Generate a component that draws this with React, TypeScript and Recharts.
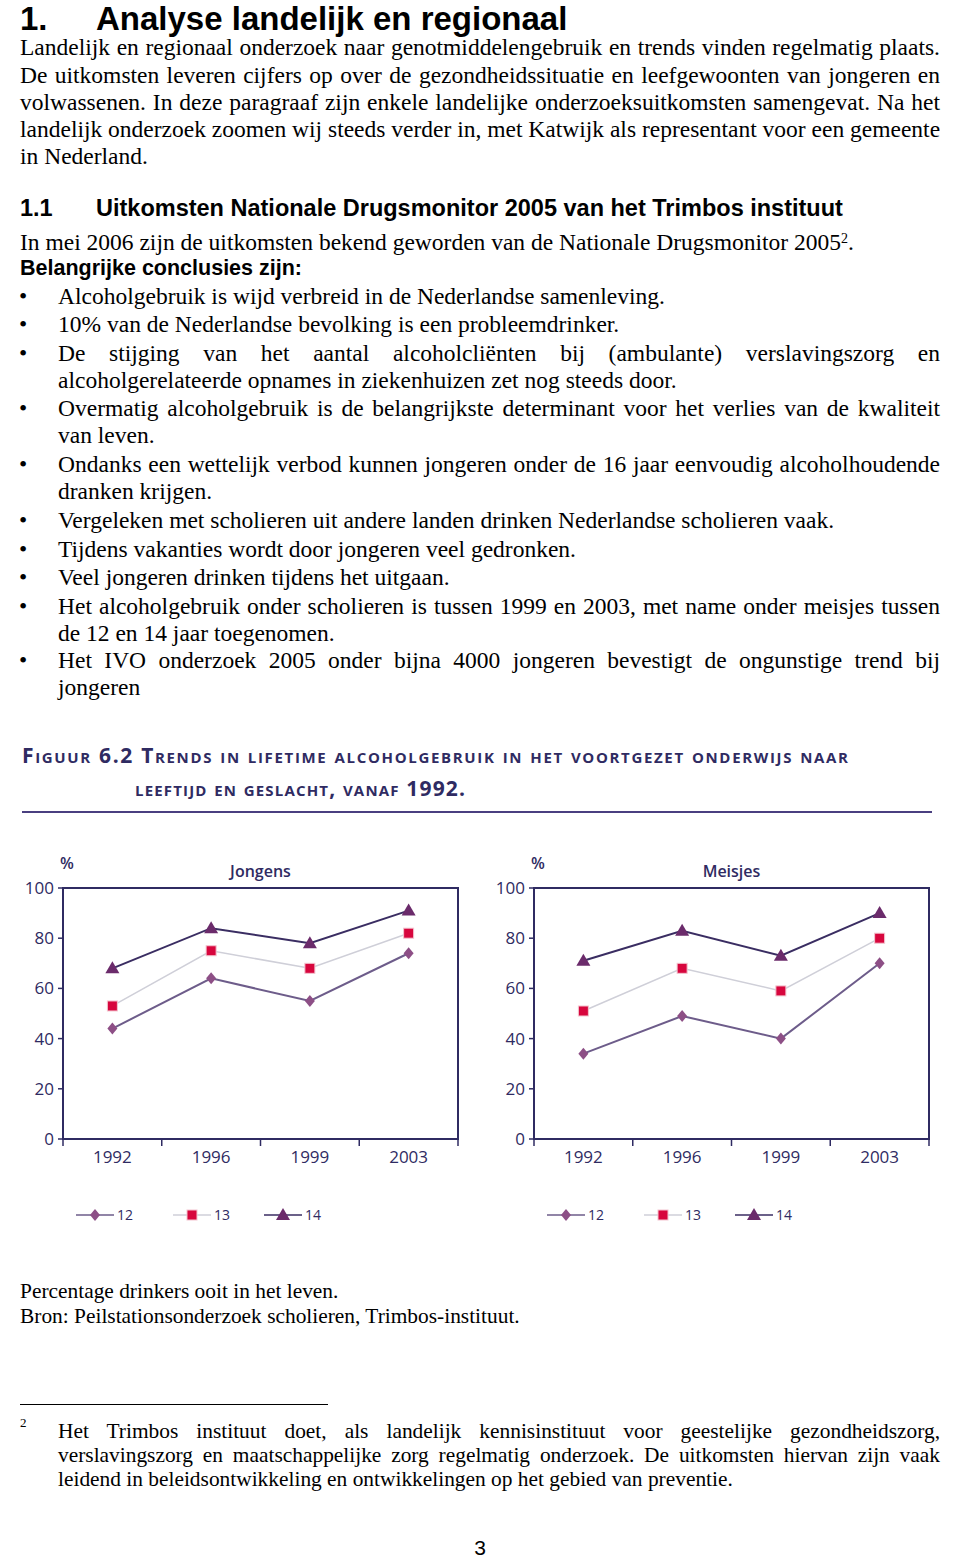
import React from 'react';
import { LineChart, Line, XAxis, YAxis, ReferenceArea } from 'recharts';

// survey years on the x axis
const YEARS = ['1992', '1996', '1999', '2003'];
const Y_TICKS = [0, 20, 40, 60, 80, 100];

// % ever drank, boys (Jongens) by age
const BOYS_12 = [44, 64, 55, 74];
const BOYS_13 = [53, 75, 68, 82];
const BOYS_14 = [68, 84, 78, 91];

// % ever drank, girls (Meisjes) by age
const GIRLS_12 = [34, 49, 40, 70];
const GIRLS_13 = [51, 68, 59, 80];
const GIRLS_14 = [71, 83, 73, 90];

const NAVY = '#2f2b62';
const COLORS = {
    line12: '#6d5c8a',
    mark12: '#8d4f86',
    line13: '#cfcfd8',
    mark13: '#d7063d',
    line14: '#3a2d62',
    mark14: '#6b2b6b',
};

const SERIF = '"Liberation Serif", "Times New Roman", serif';
const ARIAL = '"Liberation Sans", Arial, sans-serif';
const CHART_FONT = '"Open Sans", sans-serif';

const buildData = (a12: number[], a13: number[], a14: number[]) =>
    YEARS.map((year, i) => ({ year, a12: a12[i], a13: a13[i], a14: a14[i] }));

const boysData = buildData(BOYS_12, BOYS_13, BOYS_14);
const girlsData = buildData(GIRLS_12, GIRLS_13, GIRLS_14);

const Diamond = ({ cx, cy, fill }: any) => (
    <path d={`M${cx},${cy - 6}L${cx + 5},${cy}L${cx},${cy + 6}L${cx - 5},${cy}Z`} fill={fill} />
);
const Square = ({ cx, cy, fill }: any) => (
    <rect x={cx - 5} y={cy - 5} width={10} height={10} fill={fill} stroke="#f3c4cf" strokeWidth={1} />
);
const Triangle = ({ cx, cy, fill }: any) => (
    <path d={`M${cx},${cy - 7}L${cx + 7},${cy + 5}L${cx - 7},${cy + 5}Z`} fill={fill} />
);

const dotFor = (Shape: any, fill: string) => (props: any) => {
    if (props.cx == null || props.cy == null) return <g key={props.index} />;
    return <Shape key={props.index} cx={props.cx} cy={props.cy} fill={fill} />;
};

// year label plus the small tick marks that sit on the band edges
const YearTick = ({ x, y, payload, index, width, visibleTicksCount }: any) => {
    const count = visibleTicksCount || YEARS.length;
    const bw = (width || 394) / count;
    const axisY = y - 12;
    return (
        <g>
            <line x1={x - bw / 2} y1={axisY} x2={x - bw / 2} y2={axisY + 7} stroke={NAVY} strokeWidth={1.5} />
            {index === count - 1 && (
                <line x1={x + bw / 2} y1={axisY} x2={x + bw / 2} y2={axisY + 7} stroke={NAVY} strokeWidth={1.5} />
            )}
            <text x={x} y={y} dy="0.71em" textAnchor="middle" fill={NAVY} fontSize={17} fontFamily={CHART_FONT}>
                {payload.value}
            </text>
        </g>
    );
};

const LegendItem = ({ label, line, mark, Shape, gap }: any) => (
    <div style={{ display: 'flex', alignItems: 'center', marginRight: gap }}>
        <svg width={38} height={16}>
            <line x1={0} y1={8} x2={38} y2={8} stroke={line} strokeWidth={1.5} />
            <Shape cx={19} cy={8} fill={mark} />
        </svg>
        <span style={{ marginLeft: 3, fontSize: 14, color: NAVY, fontFamily: CHART_FONT }}>{label}</span>
    </div>
);

interface PanelProps {
    title: string;
    data: any[];
    left: number;
    marginLeft: number;
    marginRight: number;
    legendLeft: number;
}

const Panel = ({ title, data, left, marginLeft, marginRight, legendLeft }: PanelProps) => {
    const plotLeft = left + marginLeft + 40;
    const plotRight = left + 470 - marginRight;
    return (
        <>
            <div style={{ position: 'absolute', left: plotLeft - 3, top: 852, fontFamily: CHART_FONT, fontSize: 16, fontWeight: 600, color: NAVY }}>%</div>
            <div
                style={{
                    position: 'absolute',
                    left: plotLeft,
                    width: plotRight - plotLeft,
                    top: 860,
                    textAlign: 'center',
                    fontFamily: CHART_FONT,
                    fontSize: 16,
                    fontWeight: 600,
                    color: NAVY,
                }}
            >
                {title}
            </div>
            <div style={{ position: 'absolute', left, top: 850 }}>
                <LineChart
                    width={470}
                    height={330}
                    data={data}
                    margin={{ top: 38, right: marginRight, left: marginLeft, bottom: 11 }}
                >
                    <XAxis
                        dataKey="year"
                        scale="band"
                        height={30}
                        tickLine={false}
                        axisLine={{ stroke: NAVY, strokeWidth: 2 }}
                        tickSize={0}
                        tickMargin={12}
                        interval={0}
                        tick={<YearTick />}
                    />
                    <YAxis
                        domain={[0, 100]}
                        ticks={Y_TICKS}
                        interval={0}
                        width={40}
                        tickSize={5}
                        tickMargin={4}
                        axisLine={{ stroke: NAVY, strokeWidth: 2 }}
                        tickLine={{ stroke: NAVY, strokeWidth: 1.5 }}
                        tick={{ fill: NAVY, fontSize: 17, fontFamily: CHART_FONT }}
                    />
                    <ReferenceArea y1={0} y2={100} fill="none" stroke={NAVY} strokeWidth={2} ifOverflow="visible" />
                    <Line
                        type="linear"
                        dataKey="a13"
                        stroke={COLORS.line13}
                        strokeWidth={1.5}
                        dot={dotFor(Square, COLORS.mark13)}
                        activeDot={false}
                        isAnimationActive={false}
                    />
                    <Line
                        type="linear"
                        dataKey="a12"
                        stroke={COLORS.line12}
                        strokeWidth={2}
                        dot={dotFor(Diamond, COLORS.mark12)}
                        activeDot={false}
                        isAnimationActive={false}
                    />
                    <Line
                        type="linear"
                        dataKey="a14"
                        stroke={COLORS.line14}
                        strokeWidth={2}
                        dot={dotFor(Triangle, COLORS.mark14)}
                        activeDot={false}
                        isAnimationActive={false}
                    />
                </LineChart>
            </div>
            <div style={{ position: 'absolute', left: legendLeft, top: 1205, display: 'flex' }}>
                <LegendItem label="12" line={COLORS.line12} mark={COLORS.mark12} Shape={Diamond} gap={40} />
                <LegendItem label="13" line={COLORS.line13} mark={COLORS.mark13} Shape={Square} gap={34} />
                <LegendItem label="14" line={COLORS.line14} mark={COLORS.mark14} Shape={Triangle} gap={0} />
            </div>
        </>
    );
};

// one line of page text at a fixed spot
const TextLine = ({ top, left = 20, width = 920, justify = false, align = 'left', size = 23.5, lh = 27, font = SERIF, bold = false, children }: any) => (
    <div
        style={{
            position: 'absolute',
            top,
            left,
            width,
            fontFamily: font,
            fontSize: size,
            lineHeight: `${lh}px`,
            fontWeight: bold ? 700 : 400,
            color: '#000',
            textAlign: justify ? 'justify' : align,
            textAlignLast: justify ? 'justify' : align,
            whiteSpace: 'nowrap',
        } as any}
    >
        {children}
    </div>
);

const intro = [
    'Landelijk en regionaal onderzoek naar genotmiddelengebruik en trends vinden regelmatig plaats.',
    'De uitkomsten leveren cijfers op over de gezondheidssituatie en leefgewoonten van jongeren en',
    'volwassenen. In deze paragraaf zijn enkele landelijke onderzoeksuitkomsten samengevat. Na het',
    'landelijk onderzoek zoomen wij steeds verder in, met Katwijk als representant voor een gemeente',
    'in Nederland.',
];
const introTops = [34, 62, 89, 116, 143];

// [text, justified, bullet?]
const bullets: [string, boolean, boolean][] = [
    ['Alcoholgebruik is wijd verbreid in de Nederlandse samenleving.', false, true],
    ['10% van de Nederlandse bevolking is een probleemdrinker.', false, true],
    ['De stijging van het aantal alcoholcliënten bij (ambulante) verslavingszorg en', true, true],
    ['alcoholgerelateerde opnames in ziekenhuizen zet nog steeds door.', false, false],
    ['Overmatig alcoholgebruik is de belangrijkste determinant voor het verlies van de kwaliteit', true, true],
    ['van leven.', false, false],
    ['Ondanks een wettelijk verbod kunnen jongeren onder de 16 jaar eenvoudig alcoholhoudende', true, true],
    ['dranken krijgen.', false, false],
    ['Vergeleken met scholieren uit andere landen drinken Nederlandse scholieren vaak.', false, true],
    ['Tijdens vakanties wordt door jongeren veel gedronken.', false, true],
    ['Veel jongeren drinken tijdens het uitgaan.', false, true],
    ['Het alcoholgebruik onder scholieren is tussen 1999 en 2003, met name onder meisjes tussen', true, true],
    ['de 12 en 14 jaar toegenomen.', false, false],
    ['Het IVO onderzoek 2005 onder bijna 4000 jongeren bevestigt de ongunstige trend bij', true, true],
    ['jongeren', false, false],
];
const bulletTops = [283, 311, 340, 367, 395, 422, 451, 478, 507, 536, 564, 593, 620, 647, 674];

const footnote = [
    'Het Trimbos instituut doet, als landelijk kennisinstituut voor geestelijke gezondheidszorg,',
    'verslavingszorg en maatschappelijke zorg regelmatig onderzoek. De uitkomsten hiervan zijn vaak',
    'leidend in beleidsontwikkeling en ontwikkelingen op het gebied van preventie.',
];
const footTops = [1419, 1443, 1467];

export default function App() {
    return (
        <div style={{ position: 'absolute', left: 0, top: 0, width: 960, height: 1559, background: '#fff', overflow: 'hidden' }}>
            <TextLine top={2} left={20} size={33} lh={33} font={ARIAL} bold>1.</TextLine>
            <TextLine top={2} left={96} size={33} lh={33} font={ARIAL} bold>Analyse landelijk en regionaal</TextLine>

            {intro.map((t, i) => (
                <TextLine key={i} top={introTops[i]} justify={i < intro.length - 1}>{t}</TextLine>
            ))}

            <TextLine top={195} left={20} size={23.5} font={ARIAL} bold>1.1</TextLine>
            <TextLine top={195} left={96} size={23.5} font={ARIAL} bold>
                Uitkomsten Nationale Drugsmonitor 2005 van het Trimbos instituut
            </TextLine>
            <TextLine top={229}>
                In mei 2006 zijn de uitkomsten bekend geworden van de Nationale Drugsmonitor 2005
                <sup style={{ fontSize: 14, verticalAlign: 'top', lineHeight: '20px' }}>2</sup>.
            </TextLine>
            <TextLine top={255} size={21.5} font={ARIAL} bold>Belangrijke conclusies zijn:</TextLine>

            {bullets.map(([t, just, dot], i) => (
                <React.Fragment key={i}>
                    {dot && <TextLine top={bulletTops[i]} left={19}>•</TextLine>}
                    <TextLine top={bulletTops[i]} left={58} width={882} justify={just}>{t}</TextLine>
                </React.Fragment>
            ))}

            <svg style={{ position: 'absolute', left: 0, top: 730 }} width={960} height={90}>
                <g fill={NAVY} style={{ fontFamily: CHART_FONT, fontWeight: 700, fontVariant: 'small-caps' } as any}>
                    <text x={22} y={33} fontSize={21} textLength={826} lengthAdjust="spacing">
                        Figuur 6.2 Trends in lifetime alcoholgebruik in het voortgezet onderwijs naar
                    </text>
                    <text x={135} y={66} fontSize={21} textLength={330} lengthAdjust="spacing">
                        leeftijd en geslacht, vanaf 1992.
                    </text>
                </g>
                <line x1={22} y1={82} x2={932} y2={82} stroke="#4a3f80" strokeWidth={2} />
            </svg>

            <Panel title="Jongens" data={boysData} left={0} marginLeft={23} marginRight={12} legendLeft={76} />
            <Panel title="Meisjes" data={girlsData} left={470} marginLeft={24} marginRight={11} legendLeft={547} />

            <TextLine top={1279} size={21.4} lh={24}>Percentage drinkers ooit in het leven.</TextLine>
            <TextLine top={1304} size={21.4} lh={24}>Bron: Peilstationsonderzoek scholieren, Trimbos-instituut.</TextLine>

            <div style={{ position: 'absolute', left: 20, top: 1404, width: 308, height: 0, borderTop: '1.5px solid #000' }} />
            <TextLine top={1415} left={20} size={13} lh={16}>2</TextLine>
            {footnote.map((t, i) => (
                <TextLine key={i} top={footTops[i]} left={58} width={882} size={21.4} lh={24} justify={i < footnote.length - 1}>
                    {t}
                </TextLine>
            ))}

            <TextLine top={1539} left={0} width={960} size={21} lh={18} font={ARIAL} align="center">3</TextLine>
        </div>
    );
}
